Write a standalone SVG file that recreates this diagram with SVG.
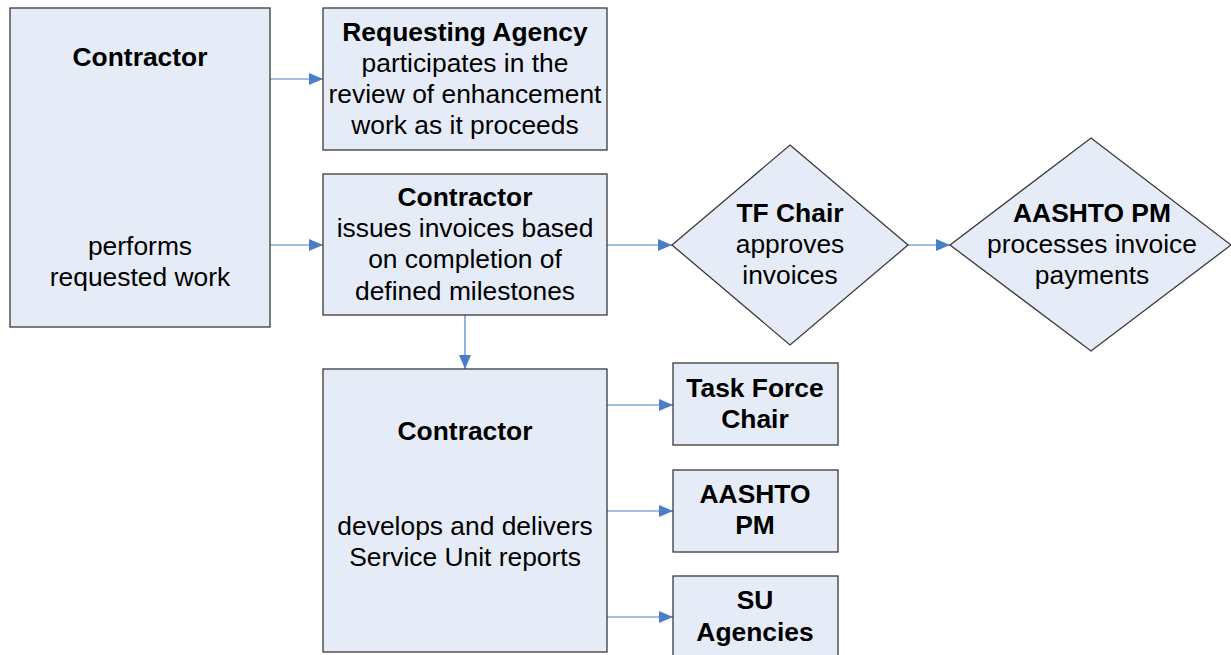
<svg xmlns="http://www.w3.org/2000/svg" width="1231" height="655" viewBox="0 0 1231 655">
<style>
.n{fill:#E6ECF7;stroke:#3a3a3a;stroke-width:1.3}
text{font-family:"Liberation Sans",Arial,sans-serif;font-size:26.4px;fill:#000;text-anchor:middle}
.b{font-weight:bold}
.c{stroke:#4A7EC7;stroke-width:1.2;fill:none;marker-end:url(#ah)}
</style>
<defs>
<marker id="ah" markerWidth="14" markerHeight="12" refX="14" refY="6" orient="auto" markerUnits="userSpaceOnUse">
<path d="M0,0 L14,6 L0,12 Z" fill="#4A7EC7"/>
</marker>
</defs>
<rect width="1231" height="655" fill="#fff"/>
<g id="connectors">
<line class="c" x1="270" y1="79" x2="323" y2="79"/>
<line class="c" x1="270" y1="245" x2="323" y2="245"/>
<line class="c" x1="607" y1="245" x2="672" y2="245"/>
<line class="c" x1="908" y1="245" x2="950" y2="245"/>
<line class="c" x1="465" y1="315" x2="465" y2="369"/>
<line class="c" x1="607" y1="405" x2="673" y2="405"/>
<line class="c" x1="607" y1="511" x2="673" y2="511"/>
<line class="c" x1="607" y1="617" x2="673" y2="617"/>
</g>
<g id="contractor-work">
<rect class="n" x="10" y="8" width="260" height="319"/>
<text class="b" x="140" y="66">Contractor</text>
<text x="140" y="255">performs</text>
<text x="140" y="286">requested work</text>
</g>
<g id="requesting-agency">
<rect class="n" x="323" y="8" width="284" height="142"/>
<text class="b" x="465" y="41">Requesting Agency</text>
<text x="465" y="72">participates in the</text>
<text x="465" y="103">review of enhancement</text>
<text x="465" y="134">work as it proceeds</text>
</g>
<g id="contractor-invoices">
<rect class="n" x="323" y="174" width="284" height="141"/>
<text class="b" x="465" y="206">Contractor</text>
<text x="465" y="237">issues invoices based</text>
<text x="465" y="268">on completion of</text>
<text x="465" y="300">defined milestones</text>
</g>
<g id="tf-chair">
<polygon class="n" points="790,145 908,245 790,345 672,245"/>
<text class="b" x="790" y="222">TF Chair</text>
<text x="790" y="253">approves</text>
<text x="790" y="284">invoices</text>
</g>
<g id="aashto-pm-payments">
<polygon class="n" points="1091,138 1231,245 1091,351 950,245"/>
<text class="b" x="1092" y="222">AASHTO PM</text>
<text x="1092" y="253">processes invoice</text>
<text x="1092" y="284">payments</text>
</g>
<g id="contractor-reports">
<rect class="n" x="323" y="369" width="284" height="283"/>
<text class="b" x="465" y="440">Contractor</text>
<text x="465" y="535">develops and delivers</text>
<text x="465" y="566">Service Unit reports</text>
</g>
<g id="task-force-chair">
<rect class="n" x="673" y="363" width="165" height="82"/>
<text class="b" x="755" y="397">Task Force</text>
<text class="b" x="755" y="428">Chair</text>
</g>
<g id="aashto-pm">
<rect class="n" x="673" y="470" width="165" height="82"/>
<text class="b" x="755" y="503">AASHTO</text>
<text class="b" x="755" y="534">PM</text>
</g>
<g id="su-agencies">
<rect class="n" x="673" y="576" width="165" height="90"/>
<text class="b" x="755" y="609">SU</text>
<text class="b" x="755" y="641">Agencies</text>
</g>
</svg>
